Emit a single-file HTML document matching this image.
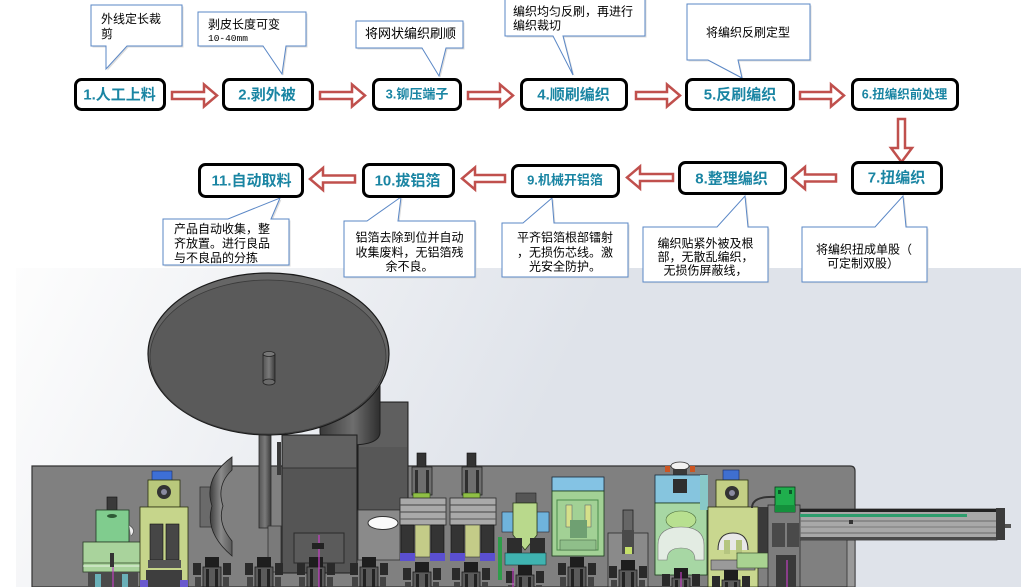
<!DOCTYPE html>
<html><head><meta charset="utf-8">
<style>
html,body{margin:0;padding:0;background:#fff;width:1021px;height:587px;overflow:hidden;}
svg{display:block;}
text{font-family:"Liberation Sans","Noto Sans CJK SC",sans-serif;}
.bt{font-weight:bold;fill:#1a85a3;font-size:15px;text-anchor:middle;}
.bs{font-weight:bold;fill:#1a85a3;font-size:13px;text-anchor:middle;}
.ct{font-size:12px;fill:#000;}
.box{fill:#fff;stroke:#000;stroke-width:3;}
.arr{fill:#fff;stroke:#c0504d;stroke-width:2.5;stroke-linejoin:miter;}
.co{fill:#fff;stroke:#5a87c6;stroke-width:1;}
.sh{fill:#dcdcdc;}
</style></head><body>
<svg width="1021" height="587" viewBox="0 0 1021 587" xmlns="http://www.w3.org/2000/svg">
<defs>
<linearGradient id="bg" gradientUnits="userSpaceOnUse" x1="16" y1="268" x2="500" y2="500">
<stop offset="0" stop-color="#fdfdfd"/><stop offset="1" stop-color="#dfe3ea"/>
</linearGradient>
<linearGradient id="cyl" x1="0" y1="0" x2="1" y2="0">
<stop offset="0" stop-color="#3a3a3a"/><stop offset="0.55" stop-color="#6e6e6e"/><stop offset="1" stop-color="#2e2e2e"/>
</linearGradient>
<linearGradient id="shaft" x1="0" y1="0" x2="1" y2="0">
<stop offset="0" stop-color="#555"/><stop offset="0.5" stop-color="#7a7a7a"/><stop offset="1" stop-color="#3a3a3a"/>
</linearGradient>
<linearGradient id="shield" x1="0" y1="0" x2="1" y2="0">
<stop offset="0" stop-color="#3c3c3c"/><stop offset="0.5" stop-color="#8a8a8a"/><stop offset="1" stop-color="#5a5a5a"/>
</linearGradient>
<g id="clamp">
<rect x="0" y="6" width="8" height="12" fill="#2a2a2a"/>
<rect x="30" y="6" width="8" height="12" fill="#2a2a2a"/>
<rect x="12" y="0" width="14" height="10" fill="#1e1e1e"/>
<rect x="10" y="10" width="18" height="20" fill="#5a5a5a" stroke="#1a1a1a" stroke-width="0.8"/>
<rect x="13" y="12" width="3" height="18" fill="#222"/>
<rect x="22" y="12" width="3" height="18" fill="#222"/>
<rect x="2" y="20" width="6" height="10" fill="#444"/>
<rect x="30" y="20" width="6" height="10" fill="#444"/>
</g>
<g id="modA">
<rect x="417" y="453" width="9" height="14" fill="#333" stroke="#111" stroke-width="0.6"/>
<rect x="412" y="467" width="20" height="28" fill="#6e6e6e" stroke="#222" stroke-width="0.8"/>
<rect x="415" y="470" width="3" height="24" fill="#2e2e2e"/>
<rect x="426" y="470" width="3" height="24" fill="#2e2e2e"/>
<rect x="413" y="493" width="17" height="9" fill="#8fbf45" stroke="#2b4a16" stroke-width="0.6"/>
<rect x="400" y="498" width="46" height="27" fill="#a9a9a9" stroke="#2a2a2a" stroke-width="0.8"/>
<line x1="400" y1="505" x2="446" y2="505" stroke="#444" stroke-width="1"/>
<line x1="400" y1="512" x2="446" y2="512" stroke="#444" stroke-width="1"/>
<line x1="400" y1="519" x2="446" y2="519" stroke="#555" stroke-width="1"/>
<rect x="401" y="525" width="13" height="29" fill="#343434" stroke="#111" stroke-width="0.6"/>
<rect x="431" y="525" width="13" height="29" fill="#343434" stroke="#111" stroke-width="0.6"/>
<rect x="415" y="525" width="15" height="32" fill="#c4cc88" stroke="#333" stroke-width="0.6"/>
<rect x="400" y="553" width="15" height="8" fill="#5a4fd0"/>
<rect x="430" y="553" width="15" height="8" fill="#5a4fd0"/>
</g>
</defs>

<!-- CAD background -->
<rect x="16" y="268" width="1005" height="319" fill="url(#bg)"/>

<!-- base plate -->
<path d="M32,466 H850 Q855,466 855,471 V587 H32 Z" fill="#808080" stroke="#333" stroke-width="1.2"/>

<!-- behind right box -->
<rect x="358" y="402" width="50" height="108" fill="#575757" stroke="#1e1e1e" stroke-width="1"/>
<rect x="359" y="403" width="48" height="44" fill="#5f5f5f"/>
<!-- hub cylinder under disc -->
<path d="M320,380 H380 V432 Q380,445 350,445 Q320,445 320,432 Z" fill="url(#cyl)" stroke="#1e1e1e" stroke-width="1"/>
<!-- main box -->
<rect x="282" y="435" width="75" height="138" fill="#555" stroke="#1e1e1e" stroke-width="1"/>
<rect x="283" y="436" width="73" height="32" fill="#616161"/>
<line x1="282" y1="468" x2="357" y2="468" stroke="#333" stroke-width="1"/>
<rect x="294" y="533" width="50" height="30" fill="#5b5b5b" stroke="#2a2a2a" stroke-width="1"/>
<rect x="277" y="442" width="4" height="33" fill="#3a3a3a"/>
<!-- shaft -->
<rect x="259" y="430" width="12" height="98" fill="url(#shaft)" stroke="#2a2a2a" stroke-width="0.8"/>
<rect x="268" y="526" width="13" height="46" fill="#7a7a7a" stroke="#333" stroke-width="0.8"/>
<!-- hole block -->
<rect x="358" y="510" width="42" height="50" fill="#8a8a8a" stroke="#333" stroke-width="0.8"/>
<ellipse cx="383" cy="523" rx="15" ry="6.5" fill="#fafafa" stroke="#333" stroke-width="1"/>
<!-- shield -->
<rect x="200" y="487" width="13" height="40" fill="#6a6a6a" stroke="#333" stroke-width="0.8"/>
<path d="M232,457 Q203,478 212,506 Q204,532 232,556 L232,541 Q217,523 223,506 Q216,485 232,470 Z" fill="url(#shield)" stroke="#222" stroke-width="0.8"/>

<!-- disc -->
<ellipse cx="268.5" cy="354" rx="120.5" ry="81" fill="#666" stroke="#1a1a1a" stroke-width="1.2"/>
<ellipse cx="268" cy="357" rx="118" ry="77" fill="#5a5a5a" stroke="#3a3a3a" stroke-width="0.8"/>
<!-- pin -->
<rect x="263" y="354" width="12" height="28" fill="url(#shaft)"/>
<ellipse cx="269" cy="382" rx="6" ry="3" fill="#6a6a6a" stroke="#222" stroke-width="0.8"/>
<line x1="263" y1="354" x2="263" y2="382" stroke="#222" stroke-width="0.8"/>
<line x1="275" y1="354" x2="275" y2="382" stroke="#222" stroke-width="0.8"/>
<ellipse cx="269" cy="354" rx="6" ry="2.5" fill="#777" stroke="#222" stroke-width="0.8"/>

<!-- left modules -->
<rect x="107" y="497" width="10" height="13" fill="#3a3a3a" stroke="#111" stroke-width="0.6"/>
<rect x="96" y="510" width="33" height="32" fill="#80cc8e" stroke="#1f3a24" stroke-width="0.8"/>
<ellipse cx="112" cy="516" rx="5" ry="2" fill="#2e5a36"/>
<path d="M129,525 Q137,530 131,536" fill="#eee" stroke="#555" stroke-width="0.8"/>
<rect x="83" y="542" width="59" height="30" fill="#a9d39c" stroke="#2a3a26" stroke-width="0.8"/>
<line x1="83" y1="563" x2="142" y2="563" stroke="#4a6a40" stroke-width="1"/>
<line x1="83" y1="566" x2="142" y2="566" stroke="#fff" stroke-width="0.8"/>
<rect x="110" y="553" width="4" height="14" fill="#333"/>
<rect x="88" y="572" width="50" height="15" fill="#4a4a4a"/>
<rect x="95" y="574" width="6" height="13" fill="#6ab0b8"/>
<rect x="122" y="574" width="6" height="13" fill="#6ab0b8"/>
<line x1="113" y1="567" x2="113" y2="587" stroke="#c040c0" stroke-width="1.2"/>
<!-- olive module left -->
<rect x="152" y="471" width="20" height="10" fill="#3d6fd6" stroke="#1a2a60" stroke-width="0.6"/>
<rect x="148" y="480" width="32" height="27" fill="#b9c87c" stroke="#2a3010" stroke-width="0.8"/>
<circle cx="164" cy="492" r="7" fill="#333"/>
<circle cx="164" cy="492" r="3" fill="#8a8aa0"/>
<rect x="140" y="507" width="48" height="80" fill="#c6d58b" stroke="#2a3010" stroke-width="0.8"/>
<rect x="150" y="524" width="13" height="36" fill="#464646" stroke="#111" stroke-width="0.6"/>
<rect x="166" y="524" width="13" height="36" fill="#464646" stroke="#111" stroke-width="0.6"/>
<rect x="148" y="560" width="33" height="8" fill="#555"/>
<rect x="146" y="570" width="36" height="17" fill="#3e3e3e"/>
<rect x="140" y="580" width="8" height="7" fill="#6a5acd"/>
<rect x="180" y="580" width="8" height="7" fill="#6a5acd"/>

<!-- clamps bottom row left -->
<use href="#clamp" x="193" y="557"/>
<use href="#clamp" x="245" y="557"/>
<use href="#clamp" x="297" y="557"/>
<use href="#clamp" x="350" y="557"/>
<line x1="319" y1="535" x2="319" y2="587" stroke="#c040c0" stroke-width="1.3"/>
<rect x="312" y="543" width="12" height="6" fill="#222"/>

<!-- middle modules A,B -->
<use href="#modA"/>
<use href="#modA" x="50"/>
<!-- module C -->
<rect x="498" y="537" width="4" height="43" fill="#2e9d4a"/>
<rect x="516" y="493" width="20" height="10" fill="#555" stroke="#222" stroke-width="0.6"/>
<rect x="502" y="512" width="13" height="20" fill="#6fb3dc" stroke="#223" stroke-width="0.6"/>
<rect x="537" y="512" width="12" height="20" fill="#6fb3dc" stroke="#223" stroke-width="0.6"/>
<path d="M513,503 H537 V535 L525,550 L513,535 Z" fill="#b9d98c" stroke="#2a3a1a" stroke-width="0.8"/>
<rect x="507" y="538" width="15" height="16" fill="#2d2d2d"/>
<rect x="530" y="538" width="15" height="16" fill="#2d2d2d"/>
<rect x="505" y="553" width="41" height="12" fill="#3fb3b0" stroke="#1a3a3a" stroke-width="0.6"/>
<!-- module D -->
<rect x="552" y="477" width="52" height="14" fill="#84c3e4" stroke="#1a2a3a" stroke-width="0.8"/>
<rect x="552" y="491" width="52" height="65" fill="#a2d195" stroke="#1a3a1a" stroke-width="0.8"/>
<rect x="557" y="500" width="41" height="50" fill="none" stroke="#4a8a4a" stroke-width="1"/>
<rect x="566" y="505" width="6" height="22" fill="#d5e08a" stroke="#556" stroke-width="0.5"/>
<rect x="585" y="505" width="6" height="22" fill="#d5e08a" stroke="#556" stroke-width="0.5"/>
<rect x="570" y="520" width="17" height="18" fill="#6fa072"/>
<rect x="560" y="540" width="36" height="10" fill="#8fbf8a" stroke="#3a5a3a" stroke-width="0.5"/>
<!-- module E -->
<rect x="608" y="533" width="40" height="54" fill="#8a8a8a" stroke="#2a2a2a" stroke-width="0.8"/>
<rect x="623" y="510" width="10" height="22" fill="#666" stroke="#222" stroke-width="0.8"/>
<rect x="622" y="530" width="12" height="24" fill="#4a4a4a"/>
<rect x="625" y="547" width="7" height="7" fill="#c5e06a"/>
<!-- module F -->
<rect x="665" y="466" width="5" height="6" fill="#cc5522"/>
<rect x="690" y="466" width="5" height="6" fill="#cc5522"/>
<ellipse cx="680" cy="466" rx="9" ry="4" fill="#f2f2f2" stroke="#333" stroke-width="0.8"/>
<rect x="673" y="469" width="14" height="8" fill="#3a3a3a"/>
<rect x="655" y="475" width="52" height="28" fill="#86c5de" stroke="#1a2a3a" stroke-width="0.8"/>
<rect x="673" y="479" width="14" height="14" fill="#2e2e2e"/>
<rect x="655" y="503" width="52" height="72" fill="#a7d7a4" stroke="#1a3a1a" stroke-width="0.8"/>
<ellipse cx="681" cy="520" rx="15" ry="9" fill="#b8e090" stroke="#4a6a3a" stroke-width="0.6"/>
<path d="M658,560 V545 Q658,527 681,527 Q704,527 704,545 V560 H695 Q695,548 681,548 Q667,548 667,560 Z" fill="#e3ece3" stroke="#777" stroke-width="0.6"/>
<rect x="700" y="475" width="8" height="35" fill="#88c8c8"/>
<!-- olive module right -->
<rect x="723" y="470" width="16" height="10" fill="#3f6fd0" stroke="#1a2a60" stroke-width="0.6"/>
<rect x="716" y="480" width="32" height="27" fill="#c3cf85" stroke="#2a3010" stroke-width="0.8"/>
<circle cx="732" cy="493" r="7" fill="#333"/>
<circle cx="732" cy="493" r="3" fill="#8a8aa0"/>
<rect x="708" y="507" width="50" height="80" fill="#c9d78f" stroke="#2a3010" stroke-width="0.8"/>
<path d="M718,550 Q718,533 733,533 Q748,533 748,550" fill="#e8e8e8" stroke="#333" stroke-width="1"/>
<rect x="724" y="540" width="6" height="14" fill="#b5c580"/>
<rect x="736" y="540" width="6" height="14" fill="#b5c580"/>
<rect x="711" y="560" width="44" height="10" fill="#9a9a9a" stroke="#333" stroke-width="0.6"/>
<rect x="758" y="507" width="12" height="53" fill="#3a3a3a"/>
<rect x="737" y="553" width="33" height="15" fill="#a9d391" stroke="#2a4020" stroke-width="0.6"/>
<!-- gray block + green box -->
<path d="M752,508 Q752,496 775,497" fill="none" stroke="#333" stroke-width="2"/>
<rect x="768" y="505" width="32" height="82" fill="#7d7d7d" stroke="#2a2a2a" stroke-width="0.8"/>
<rect x="772" y="523" width="13" height="24" fill="#4a4a4a"/>
<rect x="787" y="523" width="12" height="24" fill="#4a4a4a"/>
<rect x="775" y="487" width="20" height="25" fill="#1fae4d" stroke="#0a3a1a" stroke-width="0.8"/>
<rect x="775" y="505" width="20" height="7" fill="#14903c"/>
<rect x="778" y="490" width="3" height="4" fill="#0a5a2a"/>
<rect x="789" y="490" width="3" height="4" fill="#0a5a2a"/>
<rect x="776" y="555" width="20" height="32" fill="#3a3a3a"/>
<line x1="787" y1="560" x2="787" y2="587" stroke="#c040c0" stroke-width="1.2"/>
<!-- rail -->
<rect x="847" y="540" width="8" height="47" fill="#9a9a9a" stroke="#333" stroke-width="0.8"/>
<rect x="800" y="509" width="197" height="31" fill="#a8a8a8" stroke="#333" stroke-width="0.8"/>
<rect x="800" y="509" width="197" height="3" fill="#222"/>
<rect x="800" y="514" width="167" height="3" fill="#2e9e6e"/>
<line x1="800" y1="521" x2="997" y2="521" stroke="#6a6a6a" stroke-width="1"/>
<line x1="800" y1="527" x2="997" y2="527" stroke="#7a7a7a" stroke-width="1"/>
<line x1="800" y1="533" x2="997" y2="533" stroke="#6a6a6a" stroke-width="1"/>
<rect x="800" y="537" width="197" height="3" fill="#4a4a4a"/>
<rect x="996" y="508" width="9" height="32" fill="#3c3c3c"/>
<rect x="1005" y="524" width="6" height="4" fill="#555"/>
<rect x="849" y="520" width="4" height="4" fill="#333"/>

<!-- clamps middle -->
<use href="#clamp" x="403" y="562"/>
<use href="#clamp" x="452" y="562"/>
<use href="#clamp" x="506" y="565"/>
<use href="#clamp" x="558" y="557"/>
<use href="#clamp" x="609" y="560"/>
<use href="#clamp" x="662" y="568"/>
<use href="#clamp" x="712" y="570"/>
<line x1="513" y1="568" x2="513" y2="587" stroke="#c040c0" stroke-width="1.2"/>
<line x1="681" y1="572" x2="681" y2="587" stroke="#c040c0" stroke-width="1.2"/>

<!-- ===== CALLOUTS ===== -->
<g transform="translate(1.5,1.5)">
<path class="sh" d="M91,5 H182 V46 H127 L106,69 L106,46 H91 Z"/>
<path class="sh" d="M198,12 H306 V46 H286 L282,74 L263,46 H198 Z"/>
<path class="sh" d="M356,21 H463 V48 H446 L439,76 L422,48 H356 Z"/>
<path class="sh" d="M505,-2 H645 V36 H563 L573,75 L553,36 H505 Z"/>
<path class="sh" d="M687,4 H810 V60 H738 L742,78 L708,60 H687 Z"/>
<path class="sh" d="M163,219 H228 L280,198 L271,219 H289 V265 H163 Z"/>
<path class="sh" d="M344,221 H367 L401,197 L398,221 H475 V277 H344 Z"/>
<path class="sh" d="M502,223 H523 L552,198 L554,223 H628 V277 H502 Z"/>
<path class="sh" d="M643,227 H717 L745,196 L748,227 H768 V282 H643 Z"/>
<path class="sh" d="M802,227 H875 L903,196 L906,227 H927 V282 H802 Z"/>
</g>
<path class="co" d="M91,5 H182 V46 H127 L106,69 L106,46 H91 Z"/>
<path class="co" d="M198,12 H306 V46 H286 L282,74 L263,46 H198 Z"/>
<path class="co" d="M356,21 H463 V48 H446 L439,76 L422,48 H356 Z"/>
<path class="co" d="M505,-2 H645 V36 H563 L573,75 L553,36 H505 Z"/>
<path class="co" d="M687,4 H810 V60 H738 L742,78 L708,60 H687 Z"/>
<path class="co" d="M163,219 H228 L280,198 L271,219 H289 V265 H163 Z"/>
<path class="co" d="M344,221 H367 L401,197 L398,221 H475 V277 H344 Z"/>
<path class="co" d="M502,223 H523 L552,198 L554,223 H628 V277 H502 Z"/>
<path class="co" d="M643,227 H717 L745,196 L748,227 H768 V282 H643 Z"/>
<path class="co" d="M802,227 H875 L903,196 L906,227 H927 V282 H802 Z"/>

<text class="ct" x="101" y="23">外线定长裁</text>
<text class="ct" x="101" y="38">剪</text>
<text class="ct" x="208" y="28.5">剥皮长度可变</text>
<text x="208" y="41" style="font-family:'Liberation Mono',monospace;font-size:9.5px;fill:#000;">10-40mm</text>
<text class="ct" x="365" y="38" style="font-size:13px;">将网状编织刷顺</text>
<text class="ct" x="513" y="15.5">编织均匀反刷，再进行</text>
<text class="ct" x="513" y="29.5">编织裁切</text>
<text class="ct" x="706" y="36.5">将编织反刷定型</text>

<text class="ct" x="174" y="233">产品自动收集，整</text>
<text class="ct" x="174" y="247.5">齐放置。进行良品</text>
<text class="ct" x="174" y="262">与不良品的分拣</text>

<text class="ct" x="409.5" y="241.5" text-anchor="middle">铝箔去除到位并自动</text>
<text class="ct" x="409.5" y="256.5" text-anchor="middle">收集废料，无铝箔残</text>
<text class="ct" x="409.5" y="270.5" text-anchor="middle">余不良。</text>

<text class="ct" x="565" y="241.5" text-anchor="middle">平齐铝箔根部镭射</text>
<text class="ct" x="565" y="256.5" text-anchor="middle">，无损伤芯线。激</text>
<text class="ct" x="565" y="270.5" text-anchor="middle">光安全防护。</text>

<text class="ct" x="705.5" y="247.5" text-anchor="middle">编织贴紧外被及根</text>
<text class="ct" x="705.5" y="261" text-anchor="middle">部，无散乱编织，</text>
<text class="ct" x="705.5" y="274.5" text-anchor="middle">无损伤屏蔽线，</text>

<text class="ct" x="816" y="253.5">将编织扭成单股（</text>
<text class="ct" x="827" y="267.5">可定制双股）</text>

<!-- ===== ARROWS ===== -->
<path class="arr" d="M172,92 H204 V84.5 L217,95.5 L204,106.5 V99 H172 Z"/>
<path class="arr" d="M320,92 H352 V84.5 L365,95.5 L352,106.5 V99 H320 Z"/>
<path class="arr" d="M468,92 H500 V84.5 L513,95.5 L500,106.5 V99 H468 Z"/>
<path class="arr" d="M636,92 H667 V84.5 L680,95.5 L667,106.5 V99 H636 Z"/>
<path class="arr" d="M800,92 H831 V84.5 L844,95.5 L831,106.5 V99 H800 Z"/>
<path class="arr" d="M898,119 H905 V148 H912 L901.5,162 L891,148 H898 Z"/>
<path class="arr" d="M836,174.5 H805 V167 L792,178 L805,189 V181.5 H836 Z"/>
<path class="arr" d="M673,174 H640 V166.5 L627,177.5 L640,188.5 V181 H673 Z"/>
<path class="arr" d="M505,175 H475 V167.5 L462,178.5 L475,189.5 V182 H505 Z"/>
<path class="arr" d="M355,175.5 H323 V168 L310,179 L323,190 V182.5 H355 Z"/>

<!-- ===== PROCESS BOXES ===== -->
<rect class="box" x="75.5" y="79.5" width="89" height="30" rx="6"/>
<rect class="box" x="223.5" y="79.5" width="89" height="30" rx="6"/>
<rect class="box" x="373.5" y="79.5" width="87" height="30" rx="6"/>
<rect class="box" x="521.5" y="79.5" width="105" height="30" rx="6"/>
<rect class="box" x="686.5" y="79.5" width="107" height="30" rx="6"/>
<rect class="box" x="852.5" y="79.5" width="105" height="30" rx="6"/>
<rect class="box" x="852.5" y="162.5" width="89" height="31" rx="6"/>
<rect class="box" x="679.5" y="162.5" width="106" height="31" rx="6"/>
<rect class="box" x="512.5" y="165.5" width="106" height="31" rx="6"/>
<rect class="box" x="363.5" y="164.5" width="90" height="32" rx="6"/>
<rect class="box" x="199.5" y="164.5" width="103" height="32" rx="6"/>

<text class="bt" x="119.5" y="99.5">1.人工上料</text>
<text class="bt" x="267" y="99.5">2.剥外被</text>
<text class="bs" x="417" y="98.5">3.铆压端子</text>
<text class="bt" x="573.5" y="99.5">4.顺刷编织</text>
<text class="bt" x="740" y="99.5">5.反刷编织</text>
<text class="bs" x="904.5" y="98.5" style="font-size:12.5px;">6.扭编织前处理</text>
<text class="bt" x="896.5" y="182.5">7.扭编织</text>
<text class="bt" x="731.5" y="183.5">8.整理编织</text>
<text class="bs" x="565" y="184.5">9.机械开铝箔</text>
<text class="bt" x="407.5" y="185.5">10.拔铝箔</text>
<text class="bt" x="251.5" y="185.5">11.自动取料</text>
</svg>
</body></html>
